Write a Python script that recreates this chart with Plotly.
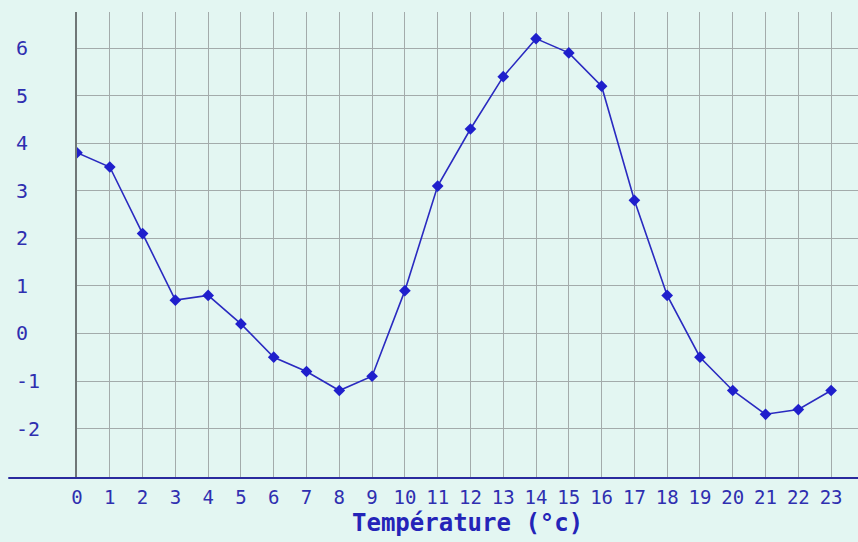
import plotly.graph_objects as go

hours = list(range(24))
temps = [3.8, 3.5, 2.1, 0.7, 0.8, 0.2, -0.5, -0.8, -1.2, -0.9, 0.9, 3.1,
         4.3, 5.4, 6.2, 5.9, 5.2, 2.8, 0.8, -0.5, -1.2, -1.7, -1.6, -1.2]
x_tick_labels = [str(h) for h in hours]
y_tick_vals = [-2, -1, 0, 1, 2, 3, 4, 5, 6]
y_tick_labels = [("-" + str(-v)) if v < 0 else (str(v) + "\u00a0") for v in y_tick_vals]
x_title = "Température (°c)"

bg = "#e3f6f2"
grid = "#a3abab"
blue = "#2f2fb0"
font_fam = "DejaVu Sans Mono, Liberation Mono, monospace"

fig = go.Figure()
fig.add_trace(go.Scatter(
    x=hours, y=temps, mode="lines+markers",
    line=dict(color="#2a2ac0", width=1.6),
    marker=dict(symbol="diamond", size=9, color="#1f1fcc"),
    hoverinfo="x+y",
))

fig.update_layout(
    width=858, height=542,
    margin=dict(l=77, r=0, t=12, b=64),
    paper_bgcolor=bg, plot_bgcolor=bg,
    showlegend=False,
    xaxis=dict(
        range=[0, 23.82], tickmode="array", tickvals=hours, ticktext=x_tick_labels,
        showgrid=True, gridcolor=grid, gridwidth=1.3, zeroline=False,
        showline=False, ticks="", ticklabelstandoff=6,
        tickfont=dict(family=font_fam, size=19, color=blue),
    ),
    yaxis=dict(
        range=[-3.04, 6.76], tickmode="array", tickvals=y_tick_vals, ticktext=y_tick_labels,
        showgrid=True, gridcolor=grid, gridwidth=1.3, zeroline=False,
        showline=True, linecolor="#6f7777", linewidth=2, ticks="", ticklabelstandoff=31,
        tickfont=dict(family=font_fam, size=20, color=blue),
    ),
    shapes=[dict(type="line", xref="paper", yref="paper", x0=-0.088, x1=1, y0=0, y1=0,
                 line=dict(color="#2a2a9e", width=2))],
    annotations=[dict(text="<b>" + x_title + "</b>", xref="paper", yref="paper",
                      x=0.5, y=-0.097, xanchor="center", yanchor="middle", showarrow=False,
                      font=dict(family=font_fam, size=24, color="#2424b8"))],
)

fig.write_html("out.html", config={"displayModeBar": False},
               post_script="document.body.style.margin='0';document.body.style.padding='0';")
